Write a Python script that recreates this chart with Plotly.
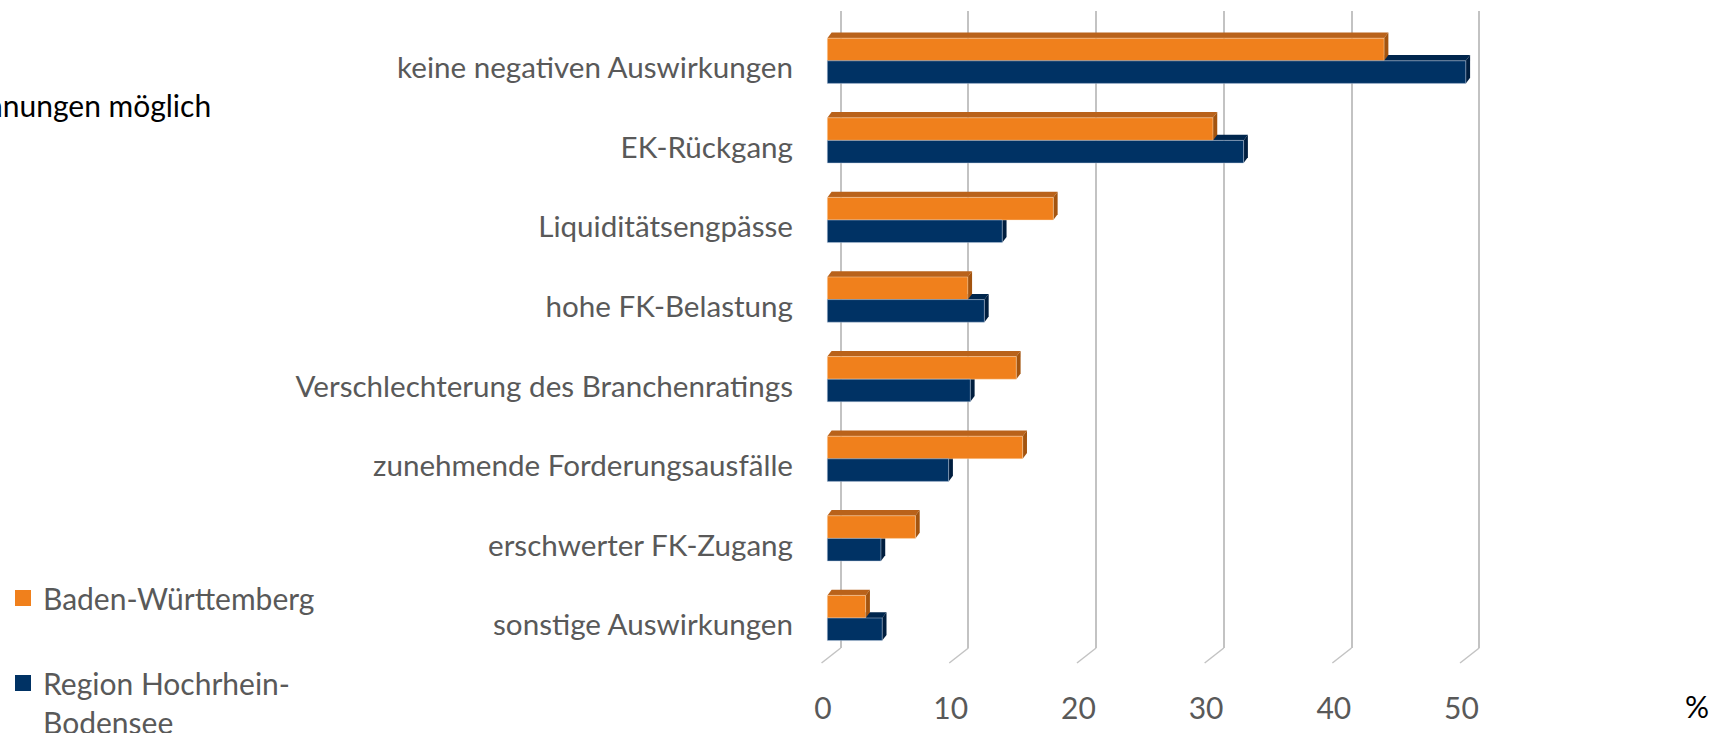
import plotly.graph_objects as go

# ---------------- data ----------------
categories = [
    "keine negativen Auswirkungen",
    "EK-Rückgang",
    "Liquiditätsengpässe",
    "hohe FK-Belastung",
    "Verschlechterung des Branchenratings",
    "zunehmende Forderungsausfälle",
    "erschwerter FK-Zugang",
    "sonstige Auswirkungen",
]
bw_values = [43.6, 30.2, 17.7, 11.0, 14.8, 15.3, 6.9, 3.0]   # Baden-Württemberg
hb_values = [50.0, 32.6, 13.7, 12.3, 11.2, 9.5, 4.2, 4.3]    # Region Hochrhein-Bodensee
series_names = ["Baden-Württemberg", "Region Hochrhein-<br>Bodensee"]
tick_values = [0, 10, 20, 30, 40, 50]
unit_label = "%"
note_text = "nnungen möglich"

# ---------------- layout geometry (pixels) ----------------
W, H = 1714, 733
L, R, T, B = 805, 1600, 11, 648          # plot area
X0_PX, PX_PER_UNIT = 827.3, 12.77        # value 0 of bar front face, px per %
CAT0_PX, CAT_PX = 67.8, 79.6             # first category centre, spacing

x_range = [(L - X0_PX) / PX_PER_UNIT, (R - X0_PX) / PX_PER_UNIT]
y_range = [(B - CAT0_PX) / CAT_PX, (T - CAT0_PX) / CAT_PX]   # reversed axis

GRID_SHIFT = 13.4 / PX_PER_UNIT     # back wall offset
LABEL_SHIFT = 4.3 / PX_PER_UNIT     # tick labels sit at front floor
FLOOR_FRONT = -0.45                 # front end of floor lines (units)
FLOOR_DROP = 15 / (B - T)           # paper units
DX = 4.3 / PX_PER_UNIT              # depth x offset (units)
DY = 5.7 / CAT_PX                   # depth y offset (category units)

BAR_W = 0.284
OFF_BW = -0.372
OFF_HB = -0.088

ORANGE = "#F0801C"
ORANGE_TOP = "#B9621A"
ORANGE_SIDE = "#A3540F"
BLUE = "#003264"
BLUE_TOP = "#00264D"
BLUE_SIDE = "#001E3F"
GRID = "#C3C3C3"
TXT = "#595959"
FONT = "Lato, Carlito, Calibri, sans-serif"
FS = 29.6


def px_to_paper_x(px):
    return (px - L) / (R - L)


def px_to_paper_y(py):
    return (B - py) / (B - T)


ypos = list(range(len(categories)))

fig = go.Figure()
fig.add_trace(go.Bar(
    y=ypos, x=bw_values, orientation="h", name=series_names[0],
    marker=dict(color=ORANGE, line=dict(color="rgba(255,230,200,0.5)", width=0.8)),
    width=BAR_W, offset=OFF_BW, showlegend=False, hoverinfo="x",
))
fig.add_trace(go.Bar(
    y=ypos, x=hb_values, orientation="h", name=series_names[1],
    marker=dict(color=BLUE, line=dict(color="rgba(190,205,225,0.6)", width=0.8)),
    width=BAR_W, offset=OFF_HB, showlegend=False, hoverinfo="x",
))
# legend entries (larger square swatches like the original)
for name, col, grp in [(series_names[0], ORANGE, "a"), (series_names[1], BLUE, "b")]:
    fig.add_trace(go.Scatter(
        x=[None], y=[None], mode="markers", name=name, legendgroup=grp,
        marker=dict(symbol="square", size=16, color=col), hoverinfo="skip",
    ))


def top_face(v, yt):
    return (f"M0,{yt} L{v},{yt} L{v + DX},{yt - DY} L{DX},{yt - DY} Z")


def side_face(v, yt, yb):
    return (f"M{v},{yt} L{v + DX},{yt - DY} L{v + DX},{yb - DY} L{v},{yb} Z")


shapes = []
# blue faces first (behind orange)
for i, v in enumerate(hb_values):
    yt = i + OFF_HB
    yb = yt + BAR_W
    shapes.append(dict(type="path", path=top_face(v, yt), xref="x", yref="y",
                       fillcolor=BLUE_TOP, line=dict(width=0), layer="between"))
    shapes.append(dict(type="path", path=side_face(v, yt, yb), xref="x", yref="y",
                       fillcolor=BLUE_SIDE, line=dict(width=0), layer="between"))
for i, v in enumerate(bw_values):
    yt = i + OFF_BW
    yb = yt + BAR_W
    shapes.append(dict(type="path", path=top_face(v, yt), xref="x", yref="y",
                       fillcolor=ORANGE_TOP, line=dict(width=0), layer="between"))
    shapes.append(dict(type="path", path=side_face(v, yt, yb), xref="x", yref="y",
                       fillcolor=ORANGE_SIDE, line=dict(width=0), layer="between"))
# floor lines (from back wall to front)
for t in tick_values:
    shapes.append(dict(type="line", xref="x", yref="paper",
                       x0=t + GRID_SHIFT, y0=0, x1=t + FLOOR_FRONT, y1=-FLOOR_DROP,
                       line=dict(color=GRID, width=1.5), layer="below"))

fig.update_layout(
    width=W, height=H, autosize=False,
    margin=dict(l=L, r=W - R, t=T, b=H - B, pad=0, autoexpand=False),
    paper_bgcolor="white", plot_bgcolor="white",
    barmode="overlay",
    font=dict(family=FONT, size=FS, color=TXT),
    shapes=shapes,
    xaxis=dict(range=x_range, showgrid=False, zeroline=False, showticklabels=False,
               showline=False, ticks="", automargin=False),
    xaxis2=dict(range=[x_range[0] - GRID_SHIFT, x_range[1] - GRID_SHIFT], overlaying="x",
                anchor="y", side="bottom", tickmode="array", tickvals=tick_values,
                showgrid=True, gridcolor=GRID, gridwidth=1.5, zeroline=False,
                showticklabels=False, showline=False, ticks="", automargin=False),
    xaxis3=dict(range=[x_range[0] + LABEL_SHIFT, x_range[1] + LABEL_SHIFT], overlaying="x",
                anchor="y", side="bottom", tickmode="array", tickvals=tick_values,
                showgrid=False, zeroline=False, showline=False, ticks="",
                ticklabelstandoff=40, automargin=False,
                tickfont=dict(family=FONT, size=30, color=TXT)),
    yaxis=dict(range=y_range, tickmode="array", tickvals=ypos, ticktext=categories,
               showgrid=False, zeroline=False, showline=False, ticks="",
               ticklabelstandoff=11, automargin=False,
               tickfont=dict(family=FONT, size=FS, color=TXT)),
    legend=dict(x=px_to_paper_x(3), xanchor="left", y=px_to_paper_y(572), yanchor="top",
                font=dict(family=FONT, size=30, color=TXT), tracegroupgap=43,
                valign="top", bgcolor="rgba(0,0,0,0)", traceorder="grouped"),
    annotations=[
        dict(text=unit_label, xref="paper", yref="paper", x=px_to_paper_x(1697),
             y=px_to_paper_y(706), xanchor="center", yanchor="middle", showarrow=False,
             font=dict(family=FONT, size=30, color="#000000")),
        dict(text=note_text, xref="paper", yref="paper", x=px_to_paper_x(213),
             y=px_to_paper_y(105), xanchor="right", yanchor="middle", showarrow=False,
             font=dict(family=FONT, size=30, color="#000000")),
    ],
)
# the overlaid axes need a trace reference to render; attach invisible points
fig.add_trace(go.Scatter(x=[tick_values[0]], y=[ypos[0]], xaxis="x3", yaxis="y",
                         mode="markers", marker=dict(opacity=0), showlegend=False,
                         hoverinfo="skip"))
fig.add_trace(go.Scatter(x=[tick_values[0]], y=[ypos[0]], xaxis="x2", yaxis="y",
                         mode="markers", marker=dict(opacity=0), showlegend=False,
                         hoverinfo="skip"))

fig.write_html("out.html", post_script="document.body.style.margin='0';",
               config={"displayModeBar": False})
